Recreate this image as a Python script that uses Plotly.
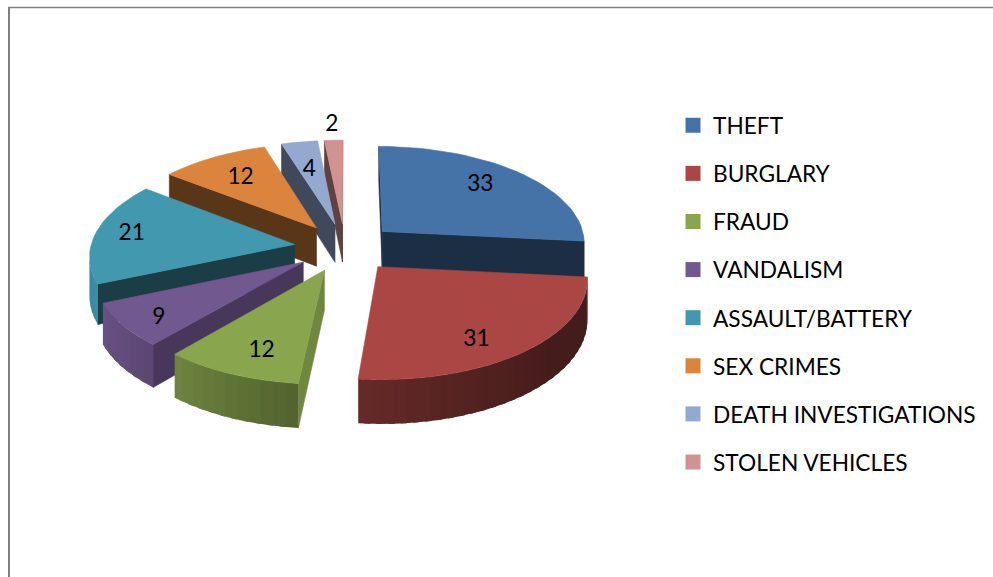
import numpy as np
import plotly.graph_objects as go

categories = ["THEFT", "BURGLARY", "FRAUD", "VANDALISM", "ASSAULT/BATTERY",
              "SEX CRIMES", "DEATH INVESTIGATIONS", "STOLEN VEHICLES"]
values = [33, 31, 12, 9, 21, 12, 4, 2]
colors = ["#4572A7", "#AA4643", "#89A54E", "#71588F", "#4198AF", "#DB843D", "#93A9CF", "#D19392"]
cut_shade = [0.40, 0.40, 0.82, 0.63, 0.40, 0.41, 0.43, 0.45]
label_radius = [0.74, 0.80, 0.78, 0.84, 0.82, 0.70, 0.64, 1.20]
label_shift_deg = [-2.7, 6.8, -3.0, -3.3, 0.5, -1.0, -1.0, 0.0]

CX, CY, RX, RY = 345, 247.5, 204, 97
PERSP, DEPTH, PULL = 0.103, 39, 0.25
FONT = "Lato"
FS = 22.7


def project(u, v, z):
    s = 1 / (1 - PERSP * v)
    return CX + RX * u * s, CY + (RY * v + DEPTH * (1 - z)) * s


def shade(hex_color, f):
    r, g, b = (int(hex_color[i:i + 2], 16) for i in (1, 3, 5))
    return f"rgb({r * f:.0f},{g * f:.0f},{b * f:.0f})"


def area(pts):
    xs, ys = np.array(pts).T
    return np.sum(xs * np.roll(ys, -1) - np.roll(xs, -1) * ys)


def poly(pts, color, lw=0.6):
    xs, ys = zip(*pts)
    return go.Scatter(x=list(xs) + [xs[0]], y=list(ys) + [ys[0]], mode="lines",
                      fill="toself", fillcolor=color,
                      line=dict(color=color, width=lw),
                      showlegend=False, hoverinfo="skip")


fig = go.Figure()
total = sum(values)
edges = np.concatenate([[0], np.cumsum(values)]) / total * 2 * np.pi
mids = (edges[:-1] + edges[1:]) / 2


def model(i, theta, r=1.0):
    du, dv = PULL * np.sin(mids[i]), -PULL * np.cos(mids[i])
    return du + r * np.sin(theta), dv - r * np.cos(theta)


order = np.argsort(-np.cos(mids))  # back to front
for i in order:
    t0, t1 = edges[i], edges[i + 1]
    n = max(2, int(np.degrees(t1 - t0) / 3))
    arc = np.linspace(t0, t1, n + 1)
    tip = model(i, 0, 0)
    tip_top, tip_bot = project(*tip, 1), project(*tip, 0)
    col = colors[i]
    cf = cut_shade[i]
    # cut faces
    end = [tip_top, project(*model(i, t1), 1), project(*model(i, t1), 0), tip_bot]
    start = [tip_top, project(*model(i, t0), 1), project(*model(i, t0), 0), tip_bot]
    if area(start) < 0:
        fig.add_trace(poly(start, shade(col, cf)))
    if area(end) > 0:
        fig.add_trace(poly(end, shade(col, cf)))
    # outer rim: each strip runs a little under the next so no seams show
    for a, b in zip(arc[:-1], arc[1:]):
        c = min(b + np.radians(1.5), t1)
        q = [project(*model(i, a), 1), project(*model(i, c), 1),
             project(*model(i, c), 0), project(*model(i, a), 0)]
        if area(q) < 0:
            deg = np.degrees((a + b) / 2)
            f = np.interp(deg, [90, 130, 160, 186, 220, 247, 270, 360],
                          [0.40, 0.40, 0.50, 0.60, 0.80, 0.93, 0.88, 0.88])
            fig.add_trace(poly(q, shade(col, f), lw=0))
    # top face
    top = [tip_top] + [project(*model(i, a), 1) for a in arc]
    fig.add_trace(poly(top, col))

# value labels
lab = [project(*model(i, mids[i] + np.radians(label_shift_deg[i]), label_radius[i]), 1)
       for i in range(len(values))]
fig.add_trace(go.Scatter(x=[p[0] for p in lab], y=[p[1] for p in lab], mode="text",
                         text=[str(v) for v in values], textposition="middle center",
                         textfont=dict(family=FONT, size=FS, color="black"),
                         showlegend=False, hoverinfo="skip"))

# legend entries
for name, col in zip(categories, colors):
    fig.add_trace(go.Scatter(x=[None], y=[None], mode="markers", name=name, legendgroup=name,
                             marker=dict(symbol="square", size=15, color=col)))

fig.update_layout(
    width=993, height=577, margin=dict(l=0, r=0, t=0, b=0),
    paper_bgcolor="white", plot_bgcolor="white",
    xaxis=dict(range=[0, 993], visible=False, fixedrange=True),
    yaxis=dict(range=[577, 0], visible=False, fixedrange=True),
    legend=dict(x=673 / 993, y=1 - 104 / 577, xanchor="left", yanchor="top",
                font=dict(family=FONT, size=FS, color="black"),
                tracegroupgap=15.6, itemsizing="trace", bgcolor="rgba(0,0,0,0)",
                borderwidth=0),
    shapes=[
        dict(type="line", xref="paper", yref="paper", x0=9 / 993, x1=9 / 993, y0=0, y1=1 - 7 / 577,
             line=dict(color="#808080", width=2)),
        dict(type="line", xref="paper", yref="paper", x0=8 / 993, x1=1, y0=1 - 7.5 / 577, y1=1 - 7.5 / 577,
             line=dict(color="#808080", width=1.5)),
    ],
)
fig.write_html("out.html", config={"displayModeBar": False},
               post_script="document.body.style.margin='0';document.body.style.overflow='hidden';")
